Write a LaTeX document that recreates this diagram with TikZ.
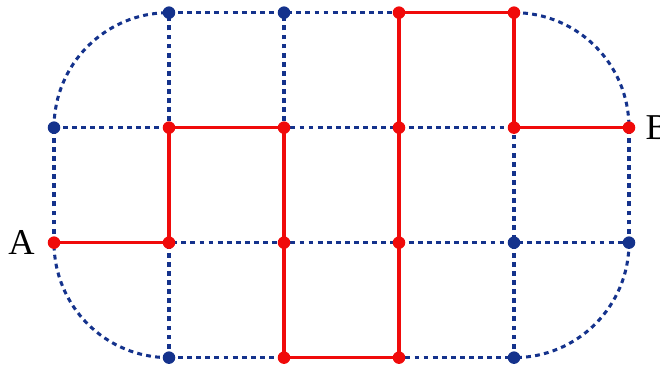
\documentclass[tikz,border=0pt]{standalone}
\usepackage{fontspec}
\setmainfont{Liberation Serif}
\usetikzlibrary{positioning}

\definecolor{gridblue}{RGB}{20,50,140}
\definecolor{pathred}{RGB}{240,10,10}

\begin{document}
\begin{tikzpicture}[x=2cm,y=2cm,
    grid/.style={gridblue,line width=1.5pt,dash pattern=on 2.4pt off 2.1pt},
    route/.style={pathred,line width=1.5pt,line join=round},
    bdot/.style={circle,fill=gridblue,inner sep=0pt,minimum size=6.2pt},
    rdot/.style={circle,fill=pathred,inner sep=0pt,minimum size=6.2pt},
    lbl/.style={inner sep=0pt,font=\fontsize{18}{20}\selectfont}]
  \useasboundingbox (-0.4696,-0.06) rectangle (5.2696,3.11);
  % grid points
  \foreach \i in {0,...,5}
    \foreach \j in {0,...,3}
      \coordinate (c-\i-\j) at (\i,\j);
  % dotted street grid
  \draw[grid] (c-1-0) -- (c-4-0);
  \draw[grid] (c-0-1) -- (c-5-1);
  \draw[grid] (c-0-2) -- (c-5-2);
  \draw[grid] (c-1-3) -- (c-4-3);
  \draw[grid] (c-0-1) -- (c-0-2);
  \draw[grid] (c-5-1) -- (c-5-2);
  \foreach \i in {1,...,4}
    \draw[grid] (c-\i-0) -- (c-\i-3);
  \draw[grid] (c-0-2) arc[start angle=180,end angle=90,radius=2cm];
  \draw[grid] (c-4-3) arc[start angle=90,end angle=0,radius=2cm];
  \draw[grid] (c-5-1) arc[start angle=0,end angle=-90,radius=2cm];
  \draw[grid] (c-1-0) arc[start angle=270,end angle=180,radius=2cm];
  % route from A to B
  \draw[route] (c-0-1) -- (c-1-1) -- (c-1-2) -- (c-2-2) -- (c-2-0) -- (c-3-0)
    -- (c-3-3) -- (c-4-3) -- (c-4-2) -- (c-5-2);
  % dots
  \foreach \p in {1-3,2-3,0-2,4-1,5-1,1-0,4-0}
    \node[bdot] (d-\p) at (c-\p) {};
  \foreach \p in {0-1,1-1,2-1,3-1,1-2,2-2,3-2,4-2,5-2,3-3,4-3,2-0,3-0}
    \node[rdot] (d-\p) at (c-\p) {};
  % end labels
  \node[lbl,left=0.33cm of d-0-1.center] (A) {A};
  \node[lbl,right=0.28cm of d-5-2.center] (B) {B};
\end{tikzpicture}
\end{document}
